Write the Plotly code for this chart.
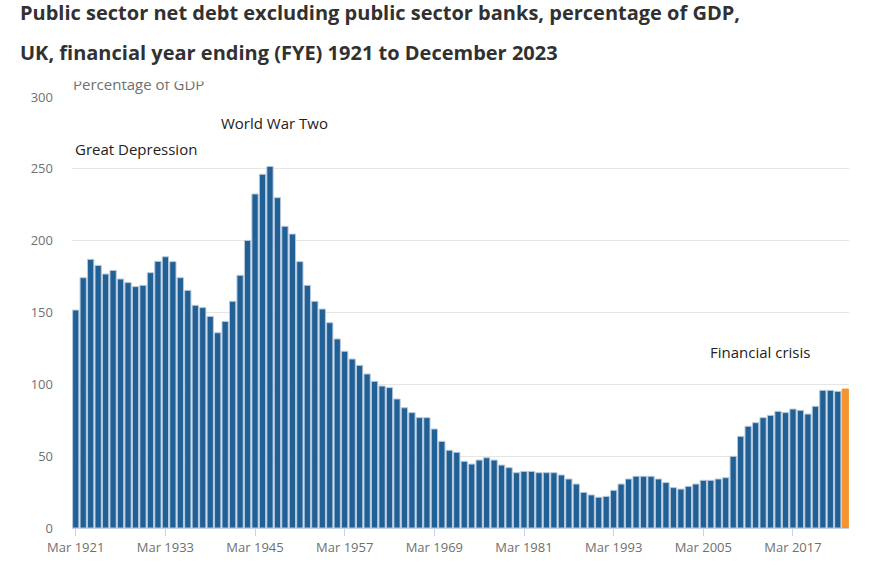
import plotly.graph_objects as go

years = list(range(1921, 2024))
categories = [f"Mar {y}" for y in years] + ["Dec 2023"]

debt_pct = [
    151.7, 174.2, 187.0, 182.8, 176.8, 179.3, 173.3, 170.8, 168.0, 168.9,
    177.7, 185.6, 188.8, 185.4, 174.2, 165.4, 155.0, 153.4, 147.3, 135.9,
    143.8, 157.8, 175.9, 200.2, 232.5, 246.2, 251.7, 229.9, 210.0, 204.6,
    185.4, 168.9, 157.8, 152.4, 142.9, 131.6, 123.0, 117.6, 113.2, 107.2,
    102.1, 98.8, 97.7, 89.8, 83.7, 80.3, 76.8, 76.8, 68.9, 60.3,
    54.1, 52.7, 46.4, 44.5, 47.3, 48.9, 47.3, 43.8, 42.0, 38.5,
    39.4, 39.4, 38.5, 38.5, 38.5, 36.9, 34.1, 30.6, 24.8, 23.0,
    21.4, 22.0, 26.2, 30.6, 34.1, 36.0, 36.0, 36.0, 34.1, 31.6,
    28.1, 27.1, 29.0, 30.6, 33.2, 33.2, 34.1, 35.0, 49.9, 63.8,
    70.8, 73.3, 76.8, 78.4, 81.2, 80.3, 82.8, 81.9, 79.3, 84.7,
    95.8, 95.8, 95.1, 96.7,
]

tick_labels = [f"Mar {y}" for y in range(1921, 2024, 12)]

annotation_texts = ["Great Depression", "World War Two", "Financial crisis"]
annotation_cats = ["Mar 1921", "Mar 1940", "Mar 2006"]
annotation_vals = [264, 282, 122.5]
annotation_shifts = [-3, 1, -3]

BLUE = "#206095"
ORANGE = "#F39431"
colors = [BLUE] * (len(categories) - 1) + [ORANGE]
line_colors = ["#b7c9de"] * (len(categories) - 1) + [ORANGE]

fig = go.Figure()
fig.add_trace(go.Bar(
    x=categories,
    y=debt_pct,
    marker=dict(color=colors, line=dict(color=line_colors, width=1)),
    showlegend=False,
    hovertemplate="%{x}: %{y}<extra></extra>",
))

annots = []
for t, c, v, s in zip(annotation_texts, annotation_cats, annotation_vals, annotation_shifts):
    annots.append(dict(
        x=c, y=v, xref="x", yref="y", text=t, showarrow=False,
        xanchor="left", yanchor="middle", xshift=s,
        font=dict(family="Open Sans", size=15, color="#222222"),
    ))

# Title lines
annots.append(dict(
    x=-0.07, y=1.196, xref="paper", yref="paper", xanchor="left", yanchor="middle",
    text="<b>Public sector net debt excluding public sector banks, percentage of GDP,</b>",
    showarrow=False, font=dict(family="Open Sans", size=20, color="#323132"),
))
annots.append(dict(
    x=-0.07, y=1.104, xref="paper", yref="paper", xanchor="left", yanchor="middle",
    text="<b>UK, financial year ending (FYE) 1921 to December 2023</b>",
    showarrow=False, font=dict(family="Open Sans", size=20, color="#323132"),
))
# Axis title
annots.append(dict(
    x=-0.001, y=1.031, xref="paper", yref="paper", xanchor="left", yanchor="middle",
    text="Percentage of GDP", showarrow=False,
    font=dict(family="Open Sans", size=15, color="#707070"),
))
# white mask clipping the top of the axis title
annots.append(dict(
    x=-0.005, y=1.0345, xref="paper", yref="paper", xanchor="left", yanchor="bottom",
    text=" ", showarrow=False, width=220, height=12, bgcolor="white",
    borderpad=0, font=dict(size=6),
))

fig.update_layout(
    width=880, height=582,
    margin=dict(l=72, r=31, t=97, b=54),
    paper_bgcolor="white", plot_bgcolor="white",
    font=dict(family="Open Sans", size=13, color="#707070"),
    bargap=0.16,
    hovermode=False,
    annotations=annots,
    xaxis=dict(
        type="category", tickmode="array", tickvals=tick_labels, ticktext=tick_labels,
        ticks="outside", ticklen=7, tickcolor="#c5d3e8", tickwidth=1,
        showline=True, linecolor="#c5d3e8", linewidth=1,
        showgrid=False, tickfont=dict(size=13, color="#707070"),
        tickangle=0,
    ),
    yaxis=dict(
        range=[0, 300], dtick=50, showgrid=True, gridcolor="#e6e6e6",
        zeroline=False, ticks="", ticklabelstandoff=18,
        tickfont=dict(size=13, color="#707070"),
    ),
)

fig.write_html(
    "out.html",
    config={"displayModeBar": False},
    post_script="document.body.style.margin='0';document.body.style.overflow='hidden';",
)
